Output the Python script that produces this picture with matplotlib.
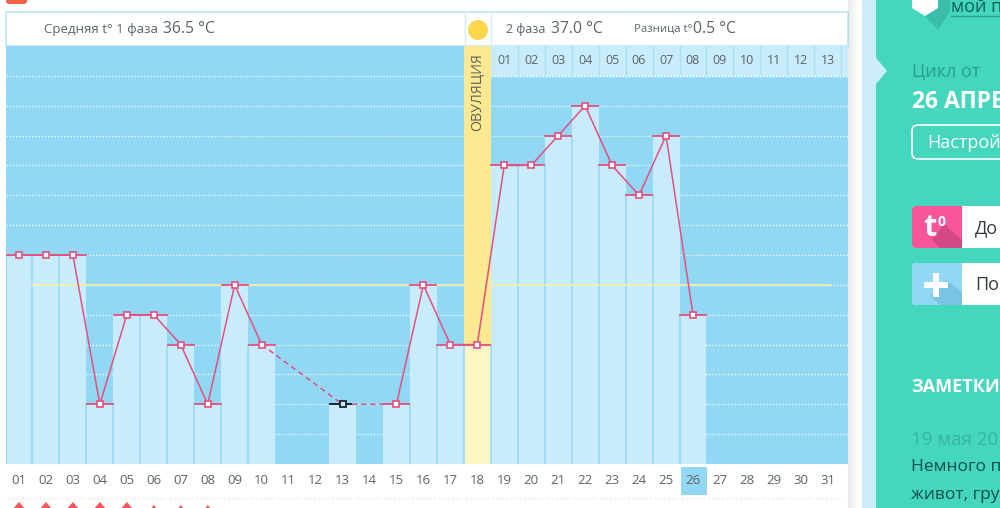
import matplotlib
matplotlib.use("Agg")
import matplotlib.pyplot as plt
from matplotlib.patches import Rectangle, FancyBboxPatch, Polygon
import numpy as np

plt.rcParams['font.family'] = ['Open Sans', 'DejaVu Sans']

days = list(range(1, 32))
temp_days = [1, 2, 3, 4, 5, 6, 7, 8, 9, 10, 13, 15, 16, 17, 18, 19, 20, 21, 22, 23, 24, 25, 26]
temps = [36.7, 36.7, 36.7, 36.2, 36.5, 36.5, 36.4, 36.2, 36.6, 36.4, 36.2, 36.2, 36.6, 36.4,
         36.4, 37.0, 37.0, 37.1, 37.2, 37.0, 36.9, 37.1, 36.5]
grid_temps = [36.0, 36.1, 36.2, 36.3, 36.4, 36.5, 36.6, 36.7, 36.8, 36.9, 37.0, 37.1, 37.2, 37.3]
big_marks = [1, 2, 3, 4, 5]
small_marks = [6, 7, 8]
ovulation_day = 18
missed_mark_day = 13
coverline = 36.6
second_phase_days = list(range(19, 33))

BG = "#92D8F4"
BAR = "#C9ECFC"
SEP = "#96D8F2"
PINK = "#E4507E"
GREY = "#5A6468"
TEAL = "#45D6BE"
W, H = 1000, 508

fig = plt.figure(figsize=(W / 100, H / 100), dpi=100, facecolor="white")

# page chrome in pixel coordinates
page = fig.add_axes([0, 0, 1, 1], zorder=0)
page.set_xlim(0, W)
page.set_ylim(H, 0)
page.axis("off")

# chart axes: x in days, y in degrees
x0, x1, ytop, ybot = 5.5, 848.0, 46.0, 464.0
ax = fig.add_axes([x0 / W, 1 - ybot / H, (x1 - x0) / W, (ybot - ytop) / H], zorder=1)
ax.set_xlim(0.5, 0.5 + (x1 - x0) / 26.96)
ax.set_ylim(36.0, 37.4)
ax.set_facecolor(BG)
for s in ax.spines.values():
    s.set_visible(False)
ax.set_xticks([])
ax.set_yticks([])

for t in grid_temps:
    ax.plot([0.5, 32], [t, t], color="white", lw=1.0, ls=(0, (1, 1.3)), alpha=0.75, zorder=1)

ax.bar(temp_days, np.array(temps) - 36.0, bottom=36.0, width=1.0, color=BAR, lw=0, zorder=2)

# ovulation column
ax.bar([ovulation_day], [1.4], bottom=36.0, width=1.0, color="#FDE992", lw=0, zorder=3)
ax.bar([ovulation_day], [temps[temp_days.index(ovulation_day)] - 36.0], bottom=36.0, width=1.0,
       color="#FDF5C6", lw=0, zorder=3)

# separators between the filled columns
tmap = dict(zip(temp_days, temps))
for d in days:
    if d in tmap and d + 1 in tmap:
        ax.plot([d + 0.5, d + 0.5], [36.0, min(tmap[d], tmap[d + 1])], color=SEP, lw=1.1, zorder=4)
ax.plot([0.5, 0.5], [36.0, tmap[1]], color=SEP, lw=1.5, zorder=4)

# second phase header cells
ax.bar(second_phase_days, [0.1] * len(second_phase_days), bottom=37.3, width=1.0, color=BAR, lw=0, zorder=3)
for d in second_phase_days:
    ax.plot([d + 0.5, d + 0.5], [37.3, 37.4], color="#A9E0F6", lw=1, zorder=4)
    if d <= 31:
        ax.text(d, 37.35, "%02d" % (d - 18), ha="center", va="center", fontsize=9, color=GREY, zorder=6)
ax.plot([18.5, 32], [37.3, 37.3], color="white", lw=1.0, ls=(0, (1, 1.3)), zorder=5)

ax.text(ovulation_day, 37.245, "ОВУЛЯЦИЯ", rotation=90, ha="center", va="center", fontsize=10.2,
        color="#5E6258", zorder=6)

# cover line
ax.plot([1.5, 31.1], [coverline, coverline], color="#F2F0A6", lw=1.2, zorder=5)

# temperature line, dashed over the missed days
solid_a = [i for i, d in enumerate(temp_days) if d <= 10]
solid_b = [i for i, d in enumerate(temp_days) if d >= 15]
dash = [i for i, d in enumerate(temp_days) if 10 <= d <= 15]
for idx, ls in ((solid_a, "-"), (solid_b, "-"), (dash, (0, (3.5, 2.5)))):
    ax.plot([temp_days[i] for i in idx], [temps[i] for i in idx], color=PINK, lw=1.1, ls=ls, zorder=7)

for d, t in zip(temp_days, temps):
    if d == missed_mark_day:
        ax.plot([d - 0.48, d + 0.32], [t, t], color="#1C2630", lw=1.4, zorder=8)
        ax.plot([d], [t], marker="s", ms=5, mfc=BAR, mec="#1C2630", mew=1.3, zorder=9, ls="none")
    else:
        ax.plot([d - 0.48, d + 0.48], [t, t], color=PINK, lw=1.3, zorder=7)
        ax.plot([d], [t], marker="s", ms=4.8, mfc="white", mec=PINK, mew=1.2, zorder=9, ls="none")

# header strip
page.add_patch(Rectangle((5.5, 12), 842.5, 34, fc="white", ec="#BFE6F6", lw=1.2))
page.plot([465, 465], [12, 46], color="#D5EFF9", lw=1)
page.plot([491, 491], [12, 46], color="#D5EFF9", lw=1)
page.add_patch(plt.Circle((478, 30), 10, fc="#FDD84F", ec="none"))
page.add_patch(FancyBboxPatch((6, -6), 21, 10, boxstyle="round,pad=0,rounding_size=3", fc="#F4614A", ec="none"))

page.text(44, 29, "Средняя t° 1 фаза", fontsize=9.5, color=GREY, va="center")
page.text(163, 29, "36.5 °C", fontsize=11.3, color=GREY, va="center")
page.text(506, 29, "2 фаза", fontsize=9, color=GREY, va="center")
page.text(551, 29, "37.0 °C", fontsize=11.3, color=GREY, va="center")
page.text(634, 29, "Разница t°", fontsize=8.2, color=GREY, va="center")
page.text(693, 29, "0.5 °C", fontsize=11.3, color=GREY, va="center")

# day labels below the chart
page.add_patch(Rectangle((681, 467), 26, 28, fc=BG, ec="none"))
for d in days:
    px = 19 + (d - 1) * 26.96
    page.text(px, 481, "%02d" % d, ha="center", va="center", fontsize=9.5, color=GREY)
    page.plot([px - 12, px + 12], [497.5, 497.5], color="#F3F4F4", lw=2, ls=(0, (1, 0.6)))
for d in big_marks + small_marks:
    px = 19 + (d - 1) * 26.96
    r = 7 if d in big_marks else 4
    page.add_patch(Polygon([[px - r, 510], [px, 510 - r - 1], [px + r, 510]], fc="#F4545A", ec="none"))

# right hand panel
for i in range(10):
    page.add_patch(Rectangle((848 + i, 0), 1, H, fc="#9AA4A8", alpha=0.22 * (1 - i / 10), ec="none"))
page.add_patch(Rectangle((862, 0), 14, H, fc="#CDEDFA", ec="none"))
page.add_patch(Rectangle((876, 0), 124, H, fc=TEAL, ec="none"))
page.add_patch(Polygon([[876, 58], [887, 71], [876, 84]], fc="#CDEDFA", ec="none"))
page.add_patch(Polygon([[918, 8], [938, 0], [950, 0], [950, 12], [938, 30]], fc="#35AE9B", alpha=0.6, ec="none"))
page.add_patch(Polygon([[912, 0], [938, 0], [938, 8], [925, 16], [912, 8]], fc="white", ec="none"))
page.text(951, 7, "мой п", fontsize=13, color="#0E5F58", va="center", clip_on=True)
page.plot([951, 1000], [15.5, 15.5], color="#2F9E90", lw=1)

page.text(912, 72, "Цикл от", fontsize=13, color="#2B9E90", va="center")
page.text(912, 102, "26 АПРЕ", fontsize=16.5, color="white", fontweight="bold", va="center", clip_on=True)
page.add_patch(FancyBboxPatch((912, 125), 110, 34, boxstyle="round,pad=0,rounding_size=6", fc="none",
                              ec="white", lw=1.2, clip_on=True))
page.text(927, 143, "Настрой", fontsize=13, color="white", va="center", clip_on=True)

# buttons
page.add_patch(FancyBboxPatch((912, 206), 110, 42, boxstyle="round,pad=0,rounding_size=4", fc="white", ec="none"))
page.add_patch(FancyBboxPatch((912, 206), 50, 42, boxstyle="round,pad=0,rounding_size=4", fc="#F8559C", ec="none"))
page.add_patch(Rectangle((950, 206), 12, 42, fc="#F8559C", ec="none"))
page.add_patch(Polygon([[932, 240], [944, 224], [962, 240], [962, 248], [940, 248]], fc="#C2447E", alpha=0.7, ec="none"))
page.text(937, 228, "t", fontsize=22, color="white", fontweight="bold", ha="right", va="center")
page.text(938, 222, "0", fontsize=10, color="white", fontweight="bold", va="center")
page.text(975, 228, "До", fontsize=13, color="#333B3E", va="center")

page.add_patch(FancyBboxPatch((912, 263), 110, 42, boxstyle="round,pad=0,rounding_size=4", fc="white", ec="none"))
page.add_patch(FancyBboxPatch((912, 263), 50, 42, boxstyle="round,pad=0,rounding_size=4", fc=BG, ec="none"))
page.add_patch(Rectangle((950, 263), 12, 42, fc=BG, ec="none"))
page.add_patch(Polygon([[930, 296], [946, 280], [962, 292], [962, 305], [940, 305]], fc="#6FBBDD", alpha=0.7, ec="none"))
page.add_patch(Rectangle((924, 281.5), 24, 6, fc="white", ec="none"))
page.add_patch(Rectangle((933, 272.5), 6, 24, fc="white", ec="none"))
page.text(975, 285, "По", fontsize=13, color="#333B3E", va="center")

page.text(911, 387, "ЗАМЕТКИ", fontsize=13, color="white", fontweight="bold", va="center")
page.text(911, 440, "19 мая 20", fontsize=13.5, color="#36B5A4", va="center", clip_on=True)
page.text(911, 467, "Немного п", fontsize=12.5, color="#0F4F4A", va="center", clip_on=True)
page.text(911, 495, "живот, гру", fontsize=12.5, color="#0F4F4A", va="center", clip_on=True)

fig.savefig("out.png", dpi=100, facecolor="white")
